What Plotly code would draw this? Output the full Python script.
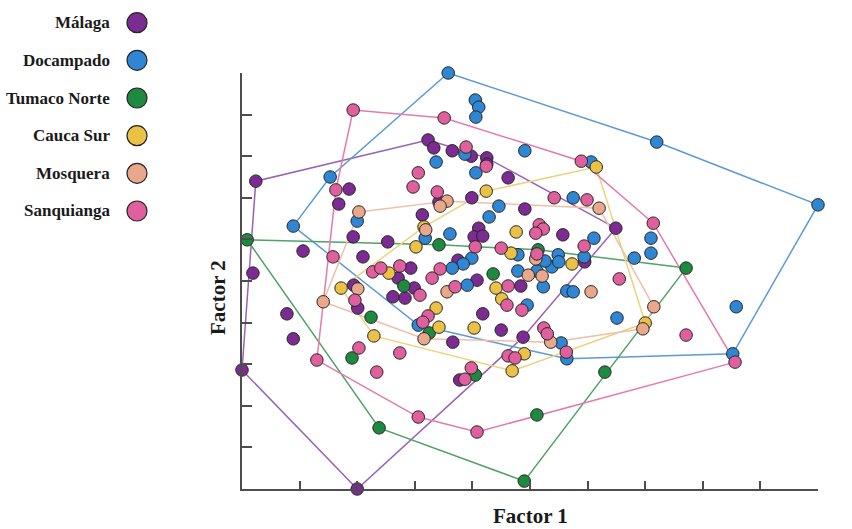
import plotly.graph_objects as go

# ---------------- data (factor scores) ----------------
groups = ["Málaga", "Docampado", "Tumaco Norte", "Cauca Sur", "Mosquera", "Sanquianga"]

malaga_x = [0.24, 3.23, 3.33, 3.65, 3.98, 4.25, 4.25, 4.62, 1.86, 1.68, 3.13, 3.99, 3.42, 4.11, 4.03,
            4.18, 4.91, 5.57, 6.49, 1.93, 2.53, 1.06, 2.10, 2.93, 0.19, 2.71, 2.99, 2.62, 2.83, 1.94,
            2.01, 0.78, 0.89, 0.00, 2.00, 4.08, 3.75, 4.84, 4.18, 4.50, 4.88, 3.66, 5.95, 3.78]
malaga_y = [7.40, 8.39, 8.20, 8.13, 8.00, 7.96, 7.81, 7.48, 7.21, 6.85, 6.59, 7.00, 6.90, 6.27, 6.06,
            6.08, 6.73, 6.11, 6.27, 6.06, 5.94, 5.72, 5.58, 5.31, 5.19, 5.07, 4.83, 4.62, 4.59, 4.90,
            4.35, 4.21, 3.61, 2.86, 0.00, 5.02, 5.50, 4.88, 4.21, 3.82, 3.65, 3.53, 5.46, 2.62]

docampado_x = [3.58, 4.05, 4.11, 4.06, 4.91, 3.87, 3.37, 4.06, 1.53, 7.20, 6.06, 5.75, 4.46, 4.29, 2.00,
               0.89, 3.61, 3.18, 6.11, 7.10, 7.10, 5.94, 6.81, 4.79, 5.49, 3.99, 3.84, 3.65, 4.79, 5.12,
               5.38, 5.26, 5.50, 3.91, 5.23, 5.64, 5.75, 4.95, 6.51, 3.06, 5.54, 5.64, 8.52, 8.58, 10.00]
docampado_y = [10.00, 9.35, 9.18, 8.94, 8.13, 8.05, 7.86, 7.60, 7.50, 8.34, 7.86, 7.00, 6.80, 6.54, 6.44,
               6.32, 6.13, 6.03, 6.03, 6.03, 5.67, 5.58, 5.55, 5.63, 5.63, 5.55, 5.41, 5.31, 5.24, 5.24,
               5.34, 5.48, 5.46, 4.90, 4.86, 4.76, 4.74, 4.42, 4.11, 3.94, 3.51, 3.13, 3.25, 4.38, 6.83]

tumaco_x = [0.09, 3.42, 2.81, 2.24, 1.91, 3.25, 4.05, 4.36, 5.14, 2.38, 5.12, 6.30, 7.71, 4.90]
tumaco_y = [5.99, 5.87, 4.88, 4.13, 3.15, 3.75, 2.74, 5.17, 5.75, 1.47, 1.78, 2.81, 5.31, 0.19]

cauca_x = [6.15, 4.24, 3.16, 3.02, 4.76, 4.67, 2.55, 1.72, 2.29, 3.37, 3.42, 4.03, 4.41, 4.51, 4.90,
           4.69, 5.73, 7.00]
cauca_y = [7.74, 7.16, 6.30, 5.82, 6.18, 5.67, 5.19, 4.83, 3.68, 4.35, 3.89, 3.87, 4.83, 4.57, 3.25,
           2.84, 5.41, 3.99]

mosquera_x = [2.03, 3.56, 3.44, 3.19, 6.20, 5.10, 4.97, 5.21, 3.56, 2.01, 1.41, 3.16, 5.36, 6.06, 7.15, 6.96]
mosquera_y = [6.66, 6.92, 6.80, 6.23, 6.75, 5.53, 5.14, 5.12, 4.74, 4.81, 4.50, 3.61, 3.53, 4.74, 4.38, 3.85]

sanquianga_x = [1.93, 3.51, 3.89, 4.24, 3.06, 2.97, 1.63, 3.39, 5.89, 5.42, 5.99, 7.14, 5.16, 5.23, 5.10,
                4.05, 4.50, 5.12, 5.94, 1.58, 2.27, 2.41, 2.74, 3.44, 3.30, 3.70, 4.62, 4.60, 4.86, 3.23,
                3.14, 3.09, 1.96, 6.55, 5.24, 5.30, 5.63, 4.62, 4.74, 3.98, 3.87, 2.03, 2.74, 1.30, 2.34,
                3.06, 4.08, 7.71, 8.56]
sanquianga_y = [9.11, 8.92, 8.22, 7.76, 7.60, 7.26, 7.19, 7.14, 7.88, 7.00, 6.95, 6.39, 6.35, 6.25, 6.15,
                5.82, 5.79, 5.65, 5.84, 5.58, 5.22, 5.31, 5.36, 5.29, 5.07, 4.86, 4.88, 4.42, 4.30, 4.16,
                4.01, 4.66, 4.54, 5.05, 3.87, 3.73, 3.29, 3.20, 3.15, 2.91, 2.64, 3.39, 3.27, 3.10, 2.81,
                1.73, 1.37, 3.70, 3.05]

series_x = [malaga_x, docampado_x, tumaco_x, cauca_x, mosquera_x, sanquianga_x]
series_y = [malaga_y, docampado_y, tumaco_y, cauca_y, mosquera_y, sanquianga_y]

marker_colors = ["#7b2b91", "#2f86d3", "#1e8a3f", "#ecc246", "#e9a78c", "#e0609d"]
line_colors = ["#9a62b4", "#5b9bd5", "#4ea365", "#ecd37c", "#f0bfa8", "#e57aab"]

axis_title_x = "Factor 1"
axis_title_y = "Factor 2"


def convex_hull(xs, ys):
    pts = sorted(set(zip(xs, ys)))
    if len(pts) < 3:
        return pts

    def cross(o, a, b):
        return (a[0] - o[0]) * (b[1] - o[1]) - (a[1] - o[1]) * (b[0] - o[0])

    lower, upper = [], []
    for p in pts:
        while len(lower) >= 2 and cross(lower[-2], lower[-1], p) <= 0:
            lower.pop()
        lower.append(p)
    for p in reversed(pts):
        while len(upper) >= 2 and cross(upper[-2], upper[-1], p) <= 0:
            upper.pop()
        upper.append(p)
    return lower[:-1] + upper[:-1]


fig = go.Figure()

# hull outlines
for name, xs, ys, lc in zip(groups, series_x, series_y, line_colors):
    hull = convex_hull(xs, ys)
    hull = hull + [hull[0]]
    fig.add_trace(go.Scatter(
        x=[p[0] for p in hull], y=[p[1] for p in hull], mode="lines",
        line=dict(color=lc, width=1.5), hoverinfo="skip", showlegend=False,
        cliponaxis=False))

# points
for name, xs, ys, mc in zip(groups, series_x, series_y, marker_colors):
    fig.add_trace(go.Scatter(
        x=xs, y=ys, mode="markers", name=name, showlegend=False,
        marker=dict(size=12.5, color=mc, line=dict(color="#262626", width=1)),
        cliponaxis=False))

# custom legend (marker to the right of the label)
legend_idx = list(range(len(groups)))
fig.add_trace(go.Scatter(
    x=[0.806] * len(groups), y=legend_idx, mode="markers", xaxis="x2", yaxis="y2",
    marker=dict(size=20, color=marker_colors, line=dict(color="#262626", width=1.2)),
    showlegend=False, hoverinfo="skip", cliponaxis=False))

W, H = 852, 529
annotations = []
for i, name in enumerate(groups):
    annotations.append(dict(
        x=0.66, y=i, xref="x2", yref="y2", text=f"<b>{name}</b>", showarrow=False,
        xanchor="right", yanchor="middle",
        font=dict(family="Liberation Serif, Times New Roman, serif", size=17, color="#1a1a1a")))

annotations.append(dict(
    x=530 / W, y=1 - 516 / H, xref="paper", yref="paper", text=f"<b>{axis_title_x}</b>",
    showarrow=False, xanchor="center", yanchor="middle",
    font=dict(family="Liberation Serif, Times New Roman, serif", size=21, color="#1a1a1a")))
annotations.append(dict(
    x=218 / W, y=1 - 297 / H, xref="paper", yref="paper", text=f"<b>{axis_title_y}</b>",
    showarrow=False, xanchor="center", yanchor="middle", textangle=-90,
    font=dict(family="Liberation Serif, Times New Roman, serif", size=21, color="#1a1a1a")))

axis_common = dict(showgrid=False, zeroline=False, showticklabels=False, showline=True,
                   linecolor="#4d4d4d", linewidth=2, ticks="inside", tickcolor="#4d4d4d",
                   tickwidth=1.5, tick0=0, dtick=1, fixedrange=True)

fig.update_layout(
    width=W, height=H,
    margin=dict(l=0, r=0, t=0, b=0),
    paper_bgcolor="white", plot_bgcolor="white",
    xaxis=dict(domain=[242 / W, 818 / W], range=[0, 10], ticklen=8, **axis_common),
    yaxis=dict(domain=[40 / H, 456 / H], range=[0, 10], ticklen=10, **axis_common),
    xaxis2=dict(domain=[0, 170 / W], range=[0, 1], visible=False, fixedrange=True),
    yaxis2=dict(domain=[1 - 230 / H, 1], range=[5.505, -0.603], visible=False, fixedrange=True,
                anchor="x2"),
    annotations=annotations,
    showlegend=False,
)
fig.data[-1].update(xaxis="x2", yaxis="y2")

fig.write_html("out.html")
